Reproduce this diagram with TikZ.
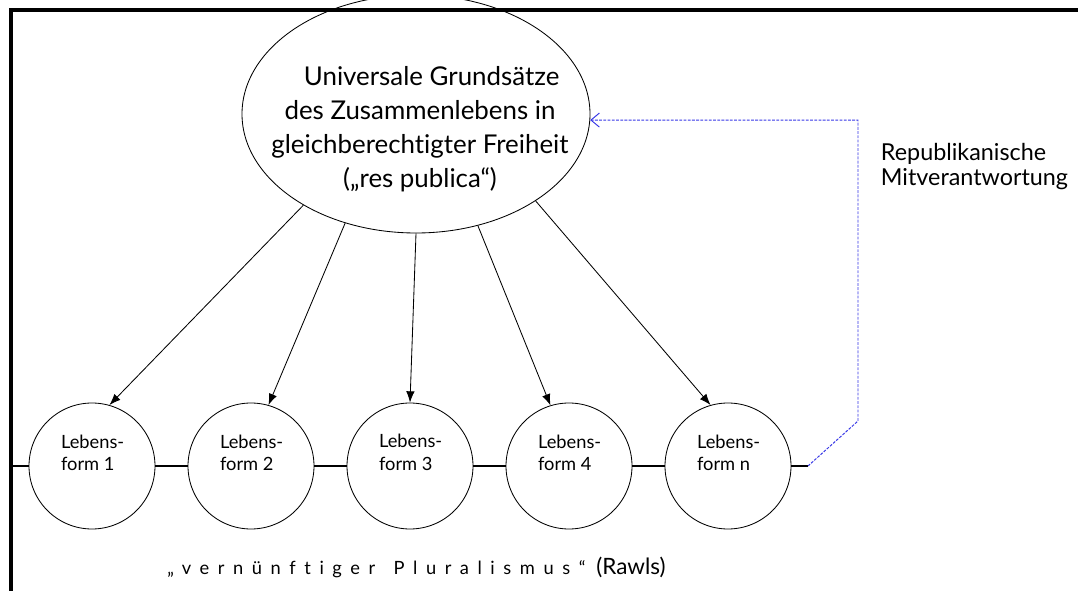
\documentclass[tikz,border=0pt]{standalone}
\usepackage{fontspec}
\setmainfont{Lato}[Ligatures=NoCommon]
\usepackage{tikz}
\usetikzlibrary{shapes.geometric,arrows.meta}
\definecolor{repblue}{RGB}{55,55,230}

\begin{document}
\begin{tikzpicture}[
    lform/.style={draw, circle, minimum size=3.15cm, inner sep=0pt, line width=0.6pt},
    lftext/.style={anchor=west, align=left, inner sep=0pt, font=\fontsize{13}{16.3}\selectfont},
    arr/.style={line width=0.6pt, -{Latex[length=8pt,width=6pt]}}
]
    \useasboundingbox (0,0) rectangle (26.95,14.775);
    \draw[line width=2.4pt] (0.275,0) -- (0.275,14.525) -- (26.95,14.525);

    % principles
    \node[draw, ellipse, minimum width=8.7cm, minimum height=5.95cm, inner sep=0pt, line width=0.6pt] (res) at (10.4,11.925) {};
    \node[align=center, inner sep=0pt, font=\fontsize{18.4}{24.1}\selectfont] (restext) at (10.5,11.55)
        {\hspace*{0.9em}Universale Grundsätze\\des Zusammenlebens in\\gleichberechtigter Freiheit\\(„res publica“)};

    % forms of life
    \foreach \i/\lab in {1/1,2/2,3/3,4/4,5/n} {
        \node[lform] (lf\i) at ({2.3+(\i-1)*3.975},3.125) {};
        \node[lftext] (lft\i) at ([xshift=-0.78cm,yshift=0.33cm]lf\i.center) {Lebens-\\form \lab};
    }

    % line through the circles
    \coordinate (lstart) at (0.3,3.125);
    \coordinate (lend) at (20.2,3.125);
    \draw[line width=1pt] (lstart) -- (lf1);
    \foreach \i/\j in {1/2,2/3,3/4,4/5}
    \draw[line width=1pt] (lf\i) -- (lf\j);
    \draw[line width=1pt] (lf5) -- (lend);

    % arrows down
    \foreach \a/\i/\b in {219/1/74,237/2/74,270/3/90,299/4/107,324/5/106}
    \draw[arr] (res.\a) -- (lf\i.\b);

    % back to the principles
    \coordinate (bend) at (21.45,4.25);
    \draw[repblue, line width=0.7pt, dash pattern=on 2pt off 1pt,
        -{Straight Barb[length=6pt,width=10pt]}] (lend) -- (bend) |- (res.358);
    \node[anchor=west, align=left, font=\fontsize{16.6}{17.7}\selectfont] (mitv) at (21.9,10.62)
        {Republikanische\\Mitverantwortung};

    \node[anchor=base west, inner sep=0pt, font=\fontsize{13}{16}\selectfont] (plural) at (4.175,0.4)
        {{\addfontfeatures{LetterSpace=47}„vernünftiger\hspace{1em}Pluralismus“}\hspace{0.6em}{\fontsize{16}{16}\selectfont(Rawls)}};
\end{tikzpicture}
\end{document}
